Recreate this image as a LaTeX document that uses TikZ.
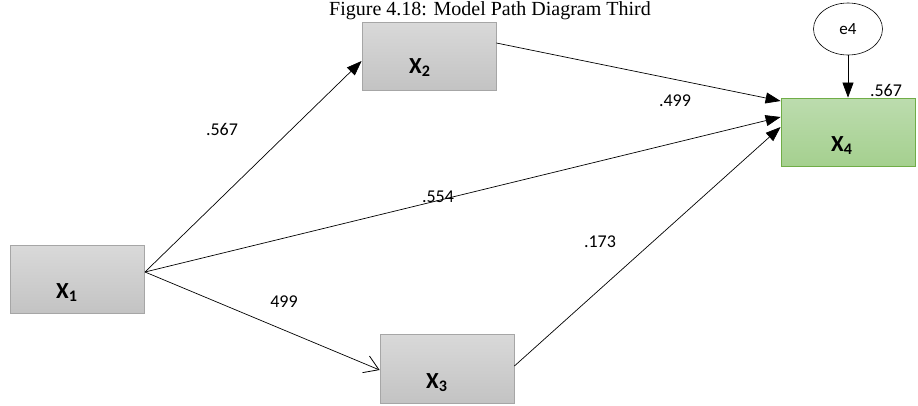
\documentclass[tikz,border=0pt]{standalone}
\usepackage{fontspec}
\setmainfont{Carlito}
\newfontfamily\titlefont{Liberation Serif}
\usetikzlibrary{arrows.meta,shapes.geometric}
\definecolor{boxtop}{HTML}{D9D9D9}
\definecolor{boxbot}{HTML}{C3C3C3}
\definecolor{boxline}{HTML}{A6A6A6}
\definecolor{greentop}{HTML}{BCDCAE}
\definecolor{greenbot}{HTML}{A5D08F}
\definecolor{greenline}{HTML}{70AD47}
\tikzset{
  varbox/.style={draw=boxline, line width=0.8pt, top color=boxtop, bottom color=boxbot,
    minimum width=134pt, minimum height=68pt, inner sep=0pt},
  endbox/.style={varbox, draw=greenline, top color=greentop, bottom color=greenbot},
  varlab/.style={font=\fontsize{23}{25}\selectfont\bfseries, inner sep=0pt, anchor=base west},
  coef/.style={font=\fontsize{18}{20}\selectfont, inner sep=0pt},
  path/.style={draw=black, line width=0.7pt, -{Triangle[length=15pt,width=11pt]}},
  openpath/.style={draw=black, line width=0.7pt, -{Straight Barb[length=14pt,width=18pt,line width=0.8pt]}},
}
\begin{document}
\begin{tikzpicture}[x=1pt,y=-1pt]
\useasboundingbox (0,0) rectangle (918,405);
\node[font=\titlefont\fontsize{20}{22}\selectfont, anchor=base, inner sep=0pt] (title) at (490,15) {Figure 4.18: Model Path Diagram Third};

\node[varbox] (x1) at (77,279.5) {};
\node[varbox] (x2) at (429,56) {};
\node[varbox, minimum height=69pt] (x3) at (447,368.5) {};
\node[endbox] (x4) at (848,132) {};
\node[draw, ellipse, line width=0.6pt, minimum width=69pt, minimum height=52pt, inner sep=0pt, font=\fontsize{17}{19}\selectfont] (e4) at (848,29) {e4};

\node[varlab] (l1) at (56,298) {X\textsubscript{1}};
\node[varlab] (l2) at (409,73) {X\textsubscript{2}};
\node[varlab] (l3) at (426,388) {X\textsubscript{3}};
\node[varlab] (l4) at (831,151) {X\textsubscript{4}};

\coordinate (x1out) at (145,272);
\draw[path] (x1out) -- (x2.west |- 0,61);
\draw[path] (x1out) -- (x4.west |- 0,117);
\draw[openpath] (x1out) -- (x3.west |- 0,370);
\draw[path] (x2.east |- 0,43) -- (x4.west |- 0,101);
\draw[path] (x3.east |- 0,366) -- (x4.west |- 0,127);
\draw[path] (e4) -- (x4);

\node[coef] (c1) at (222,129) {.567};
\node[coef] (c2) at (438,197) {.554};
\node[coef] (c3) at (284,302) {499};
\node[coef] (c4) at (600,242) {.173};
\node[coef] (c5) at (675,101) {.499};
\node[coef] (c6) at (886,90) {.567};
\end{tikzpicture}
\end{document}
